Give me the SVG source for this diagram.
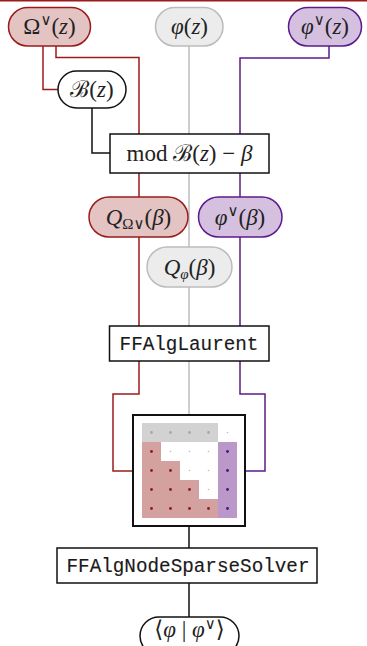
<svg xmlns="http://www.w3.org/2000/svg" width="367" height="646" viewBox="0 0 367 646">
  <defs>
    <style>
      .math { font-family: "Liberation Serif", "DejaVu Serif", serif; font-size: 23px; fill: #222; }
      .it { font-style: italic; }
      .mono { font-family: "Liberation Mono", "DejaVu Sans Mono", monospace; font-size: 19.3px; fill: #1a1a1a; stroke: #1a1a1a; stroke-width: 0.15; }
      .sub { font-size: 15px; }
      .red { fill: #e4c3c3; stroke: #9b1b1b; stroke-width: 1.5; }
      .gray { fill: #ececec; stroke: #bcbcbc; stroke-width: 1.5; }
      .purple { fill: #d6c0e0; stroke: #5c1a8a; stroke-width: 1.5; }
      .plain { fill: #fff; stroke: #111; stroke-width: 1.5; }
      .wire { fill: none; stroke-width: 1.5; }
      .dr { fill: #8e1a1a; }
      .dp { fill: #4a1478; }
      .dg { fill: #a8a8a8; }
      .dw { fill: #bdbdbd; }
    </style>
  </defs>

  <rect x="0" y="0" width="367" height="646" fill="#fff"/>
  <!-- top rule -->
  <line x1="0" y1="0.7" x2="367" y2="0.7" stroke="#9b1b1b" stroke-width="1.5"/>

  <!-- connectors -->
  <g id="connectors">
    <path class="wire" stroke="#9b1b1b" d="M43,46 V89.5 H58"/>
    <path class="wire" stroke="#9b1b1b" d="M56,46 V57.5 H139 V394 H113 V471 H133"/>
    <path class="wire" stroke="#111" d="M92,108 V153 H110"/>
    <path class="wire" stroke="#bcbcbc" d="M189,46 V415"/>
    <path class="wire" stroke="#5c1a8a" d="M329,46 V58 H240 V394 H265 V471 H245"/>
    <path class="wire" stroke="#111" d="M189,526 V548 M189,583 V617"/>
  </g>

  <g id="omega-z">
    <rect class="red" x="8.5" y="7.5" width="82" height="38.5" rx="19.25"/>
    <text class="math" x="49.5" y="34" text-anchor="middle">Ω<tspan class="sub" dy="-9">∨</tspan><tspan dy="9">(</tspan><tspan class="it">z</tspan>)</text>
  </g>

  <g id="phi-z">
    <rect class="gray" x="155.5" y="7.5" width="67.5" height="38.5" rx="19.25"/>
    <text class="math" x="189.5" y="34" text-anchor="middle"><tspan class="it">φ</tspan>(<tspan class="it">z</tspan>)</text>
  </g>

  <g id="phidual-z">
    <rect class="purple" x="288.5" y="7.5" width="73" height="38.5" rx="19.25"/>
    <text class="math" x="325" y="34" text-anchor="middle"><tspan class="it">φ</tspan><tspan class="sub" dy="-9">∨</tspan><tspan dy="9">(</tspan><tspan class="it">z</tspan>)</text>
  </g>

  <g id="b-z">
    <rect class="plain" x="58" y="71" width="68" height="37" rx="18.5"/>
    <text class="math" x="92" y="97" text-anchor="middle">ℬ(<tspan class="it">z</tspan>)</text>
  </g>

  <g id="mod">
    <rect class="plain" x="110" y="134" width="159" height="39"/>
    <text class="math" x="189.5" y="161" text-anchor="middle">mod ℬ(<tspan class="it">z</tspan>) − <tspan class="it">β</tspan></text>
  </g>

  <g id="q-omega">
    <rect class="red" x="89" y="197" width="99" height="40" rx="20"/>
    <text class="math" x="138.5" y="224.5" text-anchor="middle"><tspan class="it">Q</tspan><tspan class="sub" dy="4">Ω∨</tspan><tspan dy="-4">(</tspan><tspan class="it">β</tspan>)</text>
  </g>

  <g id="phidual-beta">
    <rect class="purple" x="198.5" y="197" width="83.5" height="40" rx="20"/>
    <text class="math" x="240" y="224.5" text-anchor="middle"><tspan class="it">φ</tspan><tspan class="sub" dy="-9">∨</tspan><tspan dy="9">(</tspan><tspan class="it">β</tspan>)</text>
  </g>

  <g id="q-phi">
    <rect class="gray" x="147" y="247" width="85" height="40" rx="20"/>
    <text class="math" x="189.5" y="274.5" text-anchor="middle"><tspan class="it">Q</tspan><tspan class="sub it" dy="4">φ</tspan><tspan dy="-4">(</tspan><tspan class="it">β</tspan>)</text>
  </g>

  <g id="laurent">
    <rect class="plain" x="109.5" y="326" width="159.5" height="35"/>
    <text class="mono" x="189" y="350" text-anchor="middle">FFAlgLaurent</text>
  </g>

  <!-- sparse matrix pattern -->
  <g id="matrix">
    <rect x="133" y="415" width="112" height="111" fill="#fff" stroke="#111" stroke-width="2"/>
    <rect x="142" y="423" width="76" height="19" fill="#d2d2d2"/>
    <path d="M142,442 H161 V461 H180 V480 H199 V499 H218 V518 H142 Z" fill="#d4a1a1"/>
    <rect x="218" y="442" width="19" height="76" fill="#ba98c9"/>
    <g class="dg">
      <circle cx="151.5" cy="432.5" r="1.4"/><circle cx="170.5" cy="432.5" r="1.4"/>
      <circle cx="189.5" cy="432.5" r="1.4"/><circle cx="208.5" cy="432.5" r="1.4"/>
    </g>
    <g class="dw">
      <circle cx="227.5" cy="432.5" r="0.8"/>
      <circle cx="170.5" cy="451.5" r="0.8"/><circle cx="189.5" cy="451.5" r="0.8"/><circle cx="208.5" cy="451.5" r="0.8"/>
      <circle cx="189.5" cy="470.5" r="0.8"/><circle cx="208.5" cy="470.5" r="0.8"/>
      <circle cx="208.5" cy="489.5" r="0.8"/>
    </g>
    <g class="dr">
      <circle cx="151.5" cy="451.5" r="1.4"/>
      <circle cx="151.5" cy="470.5" r="1.4"/><circle cx="170.5" cy="470.5" r="1.4"/>
      <circle cx="151.5" cy="489.5" r="1.4"/><circle cx="170.5" cy="489.5" r="1.4"/><circle cx="189.5" cy="489.5" r="1.4"/>
      <circle cx="151.5" cy="508.5" r="1.4"/><circle cx="170.5" cy="508.5" r="1.4"/><circle cx="189.5" cy="508.5" r="1.4"/><circle cx="208.5" cy="508.5" r="1.4"/>
    </g>
    <g class="dp">
      <circle cx="227.5" cy="451.5" r="1.4"/><circle cx="227.5" cy="470.5" r="1.4"/>
      <circle cx="227.5" cy="489.5" r="1.4"/><circle cx="227.5" cy="508.5" r="1.4"/>
    </g>
  </g>

  <g id="sparse-solver">
    <rect class="plain" x="57" y="548" width="260" height="35"/>
    <text class="mono" x="188" y="572" text-anchor="middle">FFAlgNodeSparseSolver</text>
  </g>

  <g id="result">
    <rect class="plain" x="140" y="617" width="99" height="38" rx="19"/>
    <text class="math" x="189.5" y="637" text-anchor="middle" font-size="21">⟨<tspan class="it">φ</tspan> | <tspan class="it">φ</tspan><tspan class="sub" dy="-8">∨</tspan><tspan dy="8">⟩</tspan></text>
  </g>
</svg>
